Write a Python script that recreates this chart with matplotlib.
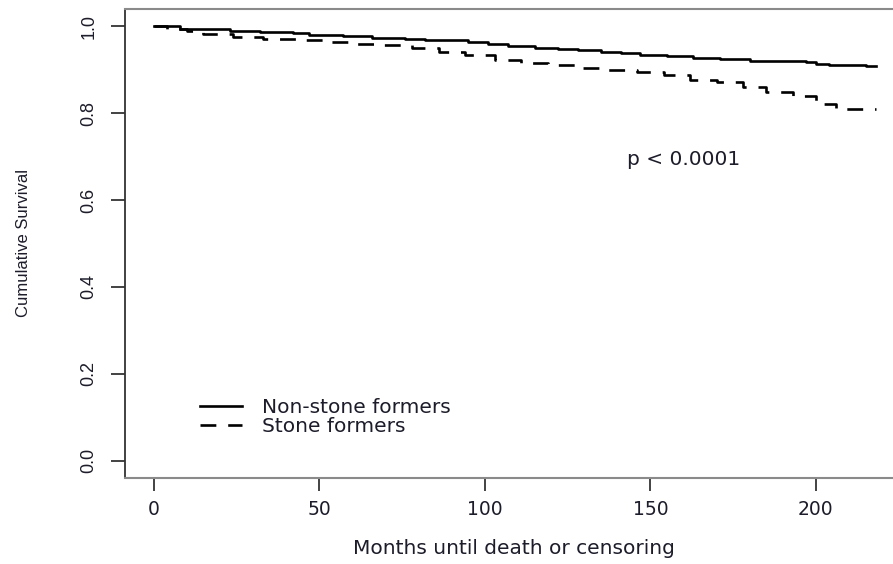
import matplotlib
matplotlib.use("Agg")
import matplotlib.pyplot as plt

# Step-function survival curves (months, cumulative survival)
non_stone_t = [0, 8, 23, 32, 42, 47, 57, 66, 76, 82, 95, 101, 107, 115, 122, 128,
               135, 141, 147, 155, 163, 171, 180, 197, 200, 204, 215, 218]
non_stone_s = [1.000, 0.993, 0.990, 0.987, 0.984, 0.980, 0.977, 0.974, 0.971, 0.968,
               0.963, 0.959, 0.955, 0.951, 0.948, 0.945, 0.941, 0.938, 0.935, 0.931,
               0.927, 0.924, 0.921, 0.918, 0.914, 0.911, 0.909, 0.909]

stone_t = [0, 4, 10, 15, 24, 33, 43, 52, 61, 69, 78, 86, 94, 103, 111, 119, 129,
           137, 146, 154, 162, 170, 178, 185, 193, 200, 206, 218]
stone_s = [1.000, 0.995, 0.990, 0.983, 0.976, 0.971, 0.969, 0.963, 0.960, 0.956,
           0.950, 0.940, 0.933, 0.923, 0.916, 0.912, 0.904, 0.899, 0.896, 0.887,
           0.877, 0.871, 0.860, 0.849, 0.839, 0.822, 0.809, 0.809]

x_ticks = [0, 50, 100, 150, 200]
y_ticks = [0.0, 0.2, 0.4, 0.6, 0.8, 1.0]
y_tick_labels = ["0.0", "0.2", "0.4", "0.6", "0.8", "1.0"]
series_labels = ["Non-stone formers", "Stone formers"]
p_text = "p < 0.0001"

W, H = 893, 564
fig = plt.figure(figsize=(W / 100, H / 100), dpi=100)
ax = fig.add_axes([125 / W, 86 / H, (901 - 125) / W, (478 - 9) / H])

txt_col = "#1c1c2a"
main_font = ["DejaVu Sans"]
narrow_font = ["Liberation Sans Narrow", "Liberation Sans", "DejaVu Sans"]

ax.step(non_stone_t, non_stone_s, where="post", color="black", lw=1.9,
        label=series_labels[0])
ax.step(stone_t, stone_s, where="post", color="black", lw=1.9,
        linestyle=(0, (6, 4.5)), label=series_labels[1])

ax.set_xlim(-8.7, 225.7)
ax.set_ylim(-0.04, 1.04)

ax.set_xticks(x_ticks)
ax.set_xticklabels([str(v) for v in x_ticks], fontsize=13.5, family=main_font,
                   color=txt_col)
ax.set_yticks(y_ticks)
ax.set_yticklabels(y_tick_labels, fontsize=13, family=narrow_font, color=txt_col,
                   rotation=90, va="center")
ax.tick_params(axis="x", length=9, width=1.2, pad=7, colors="#222")
ax.tick_params(axis="y", length=10, width=1.2, pad=10, colors="#222")
for lab in ax.get_xticklabels():
    lab.set_color(txt_col)
for lab in ax.get_yticklabels():
    lab.set_color(txt_col)

ax.spines["right"].set_visible(False)
ax.spines["left"].set_color("#333333")
ax.spines["left"].set_linewidth(1.3)
ax.spines["top"].set_color("#8a8a8a")
ax.spines["top"].set_linewidth(1.5)
ax.spines["bottom"].set_color("#8a8a8a")
ax.spines["bottom"].set_linewidth(1.5)

fig.text(514 / W, 1 - 548 / H, "Months until death or censoring", ha="center",
         va="center", fontsize=14.5, family=main_font, color=txt_col)
fig.text(24 / W, 1 - 243 / H, "Cumulative Survival", ha="center", va="center",
         rotation=90, fontsize=12, family=narrow_font, color=txt_col)

ax.text(143, 0.694, p_text, ha="left", va="center", fontsize=14.5,
        family=main_font, color=txt_col)

leg = ax.legend(loc="upper left", bbox_to_anchor=((200 - 125) / 776, (478 - 398) / 469),
                frameon=False, prop={"family": main_font, "size": 14.5},
                handlelength=2.1, handletextpad=1.0, labelspacing=0.0,
                borderaxespad=0, borderpad=0)
for t in leg.get_texts():
    t.set_color(txt_col)

fig.savefig("out.png", dpi=100)
